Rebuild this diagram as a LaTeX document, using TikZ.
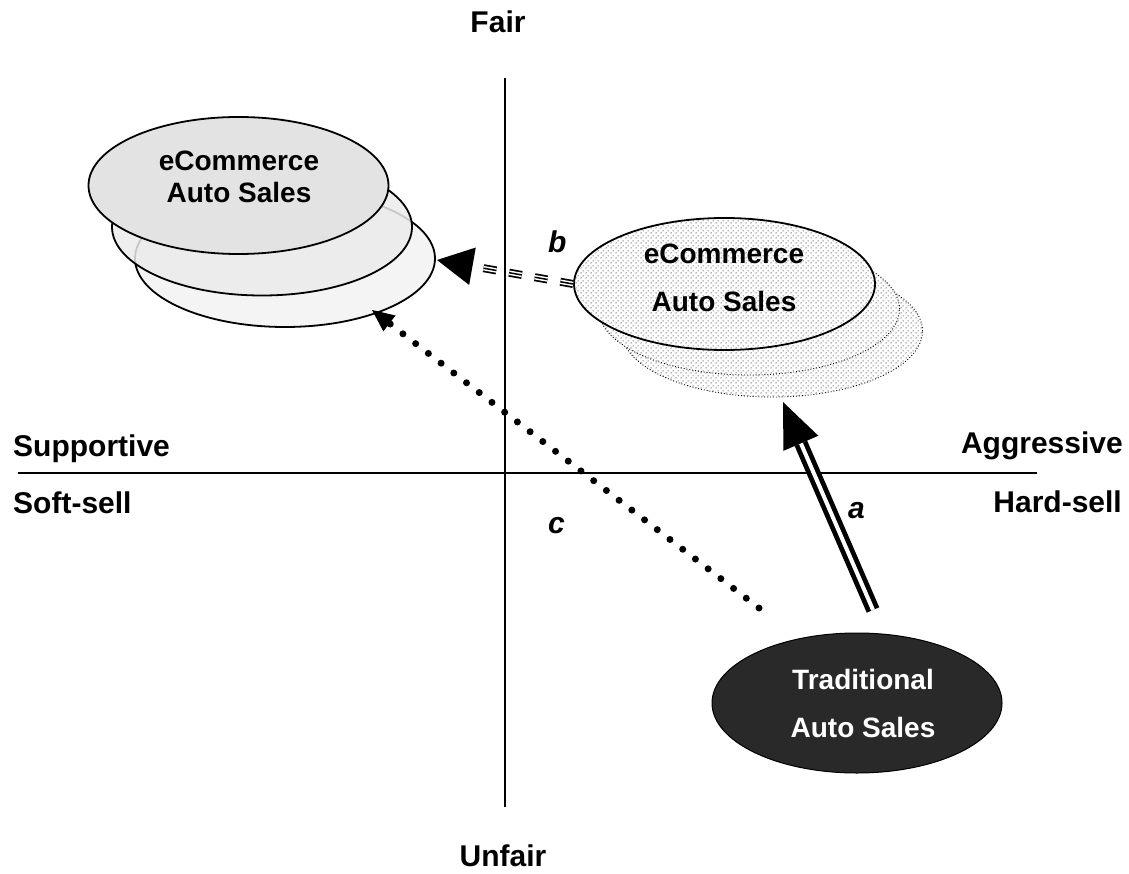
\documentclass[tikz,border=0pt]{standalone}
\usepackage{fontspec}
\setmainfont{Liberation Sans}
\usetikzlibrary{shapes.geometric,patterns,calc}
\pgfdeclarepatternformonly{mydots}{\pgfpointorigin}{\pgfqpoint{5pt}{5pt}}{\pgfqpoint{5pt}{5pt}}{%
  \pgfpathcircle{\pgfqpoint{1.25pt}{1.25pt}}{0.85pt}%
  \pgfpathcircle{\pgfqpoint{3.75pt}{3.75pt}}{0.85pt}%
  \pgfusepath{fill}}
\newcommand\arrowheadat[3]{\fill (#1) -- ($(#2)!#3!90:(#1)$) -- ($(#2)!#3!-90:(#1)$) -- cycle;}
\begin{document}
\begin{tikzpicture}[x=1pt,y=-1pt,
  axis/.style={line width=2pt},
  axlabel/.style={inner sep=0pt,font=\fontsize{30}{36}\selectfont\bfseries},
  arrlabel/.style={inner sep=0pt,anchor=base west,font=\fontsize{30}{36}\selectfont\bfseries\itshape},
  elltext/.style={inner sep=0pt,anchor=base,font=\fontsize{28}{32}\selectfont\bfseries},
  leftell/.style={ellipse,draw,line width=1.8pt,minimum width=300pt,minimum height=137pt,inner sep=0pt},
  rightell/.style={ellipse,minimum width=301pt,minimum height=132pt,inner sep=0pt,preaction={fill=white},pattern=mydots,pattern color=black!55},
]
\useasboundingbox (0,0) rectangle (1129,874);
% axes
\coordinate (vtop) at (505,78);
\coordinate (vbot) at (505,807);
\coordinate (hl) at (18,473);
\coordinate (hr) at (1037,473);
\draw[axis] (vtop) -- (vbot);
\draw[axis] (hl) -- (hr);
% axis labels
\node[axlabel,anchor=base] (fair) at (498,33) {Fair};
\node[axlabel,anchor=base] (unfair) at (503,866) {Unfair};
\node[axlabel,anchor=base west] (supp) at (13,456) {Supportive};
\node[axlabel,anchor=base west] (soft) at (13,513) {Soft-sell};
\node[axlabel,anchor=base east] (aggr) at (1123,453) {Aggressive};
\node[axlabel,anchor=base east] (hard) at (1122,512) {Hard-sell};
% left stack
\node[leftell,fill=gray!9] (eL3) at (285,258.5) {};
\node[leftell,fill=gray!16,fill opacity=0.85] (eL2) at (262,227) {};
\node[leftell,fill=gray!22] (eL1) at (238.5,185.5) {};
\node[elltext] (tL1) at (239,171) {eCommerce};
\node[elltext] (tL2) at (239,203) {Auto Sales};
% right stack
\node[rightell,draw,dotted,line width=0.9pt] (eR3) at (772,331) {};
\node[rightell,draw,dotted,line width=0.9pt] (eR2) at (749,309) {};
\node[rightell,draw,line width=1.8pt] (eR1) at (724.5,284) {};
\node[elltext] (tR1) at (724,264) {eCommerce};
\node[elltext] (tR2) at (724,312) {Auto Sales};
% traditional
\node[ellipse,draw,line width=1pt,fill=black!84,minimum width=290pt,minimum height=140pt,inner sep=0pt] (trad) at (857,703) {};
\node[elltext,text=white] (tT1) at (863,689) {Traditional};
\node[elltext,text=white] (tT2) at (863,737) {Auto Sales};
% arrow a (double)
\coordinate (astart) at (873,610);
\coordinate (atip) at (783,402);
\coordinate (abase) at ($(atip)!45pt!(astart)$);
\draw[line width=4.8pt,double=white,double distance=4pt] (astart) -- (abase);
\arrowheadat{atip}{abase}{19pt}
% arrow b (triple dashed)
\coordinate (bstart) at (eR1.west);
\coordinate (btip) at (437,260);
\coordinate (bbase) at ($(btip)!36pt!(bstart)$);
\draw[line width=8pt,dash pattern=on 13pt off 13pt] (bstart) -- (bbase);
\draw[line width=4.5pt,white,dash pattern=on 13pt off 13pt] (bstart) -- (bbase);
\draw[line width=1.5pt,dash pattern=on 13pt off 13pt] (bstart) -- (bbase);
\arrowheadat{btip}{bbase}{19pt}
% arrow c (dotted)
\coordinate (cstart) at (759,608);
\coordinate (ctip) at (372,310);
\coordinate (cbase) at ($(ctip)!22pt!(cstart)$);
\draw[line width=7pt,line cap=round,dash pattern=on 0pt off 16.05pt] (cstart) -- (cbase);
\arrowheadat{ctip}{cbase}{10pt}
% arrow labels
\node[arrlabel] (la) at (848,518) {a};
\node[arrlabel] (lb) at (548,253) {b};
\node[arrlabel] (lc) at (548,533) {c};
\end{tikzpicture}
\end{document}
